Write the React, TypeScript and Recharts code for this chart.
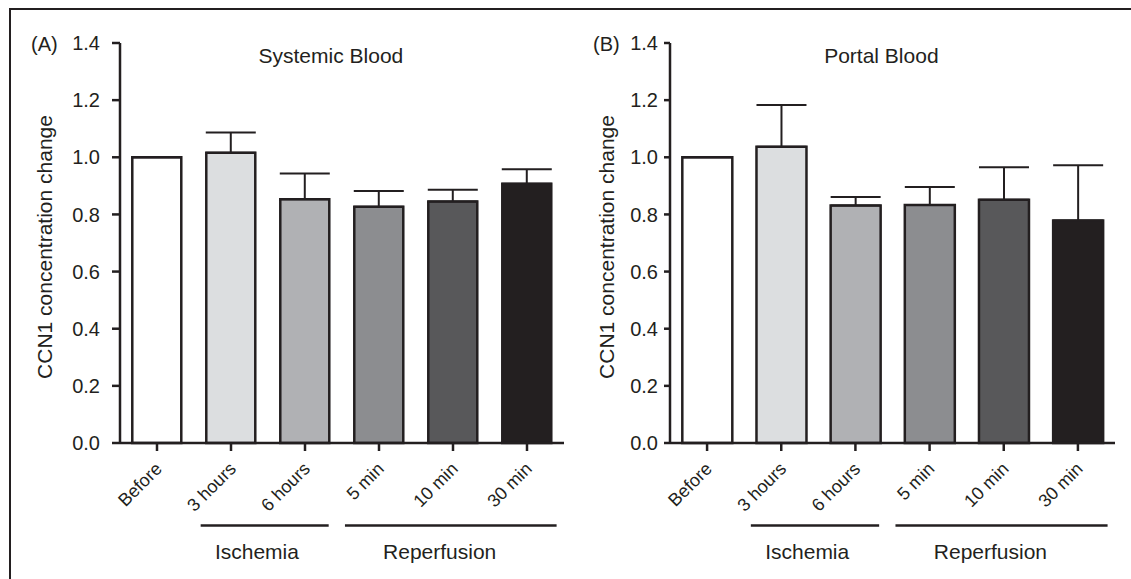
import React from 'react';
import { BarChart, Bar, XAxis, YAxis, ErrorBar, Cell } from 'recharts';

const categories = ['Before', '3 hours', '6 hours', '5 min', '10 min', '30 min'];
const yTicks = [0, 0.2, 0.4, 0.6, 0.8, 1.0, 1.2, 1.4];

const systemicMean = [1.0, 1.016, 0.853, 0.827, 0.845, 0.907];
const systemicErr = [0, 0.071, 0.09, 0.055, 0.041, 0.051];

const portalMean = [1.0, 1.037, 0.831, 0.833, 0.851, 0.779];
const portalErr = [0, 0.146, 0.03, 0.063, 0.114, 0.193];

const barColors = ['#ffffff', '#dcdee0', '#b0b1b4', '#8c8d90', '#58585a', '#231f20'];

// group brackets under the axis, in category units
const groups = [
  { label: 'Ischemia', from: 1.09, to: 2.82, at: 1.85 },
  { label: 'Reperfusion', from: 3.04, to: 5.9, at: 4.32 },
];

const INK = '#231f20';
const FONT = '"Liberation Sans", Arial, Helvetica, sans-serif';

const build = (mean: number[], err: number[]) =>
  categories.map((name, i) => ({ name, value: mean[i], err: [0, err[i]] }));

const AngledTick = (props: any) => {
  const { x, y, payload } = props;
  const ax = x + 6;
  const ay = y + 17;
  return (
    <text
      x={ax}
      y={ay}
      textAnchor="end"
      transform={`rotate(-45 ${ax} ${ay})`}
      fontSize={18}
      fill={INK}
      fontFamily={FONT}
    >
      {payload.value}
    </text>
  );
};

type PanelProps = {
  letter: string;
  title: string;
  mean: number[];
  err: number[];
  left: number;
  width: number;
  plotLeft: number; // absolute x of y axis
  plotRight: number;
  tickSize: number;
  tickMargin: number;
  letterX: number;
  yLabelX: number;
};

const PLOT_TOP = 43;
const PLOT_BOTTOM = 443;
const H = 579;

const Panel = (p: PanelProps) => {
  const data = build(p.mean, p.err);
  const yAxisW = 60;
  const relLeft = p.plotLeft - p.left;
  const relRight = p.plotRight - p.left;
  const band = (relRight - relLeft) / categories.length;
  const xAxisH = 60;
  return (
    <div style={{ position: 'absolute', left: p.left, top: 0, width: p.width, height: H }}>
      <BarChart
        width={p.width}
        height={H}
        data={data}
        margin={{ top: PLOT_TOP, left: relLeft - yAxisW, right: p.width - relRight, bottom: H - PLOT_BOTTOM - xAxisH }}
        barCategoryGap="16.6%"
      >
        <XAxis
          dataKey="name"
          height={xAxisH}
          interval={0}
          tickSize={8}
          axisLine={{ stroke: INK, strokeWidth: 2.5 }}
          tickLine={{ stroke: INK, strokeWidth: 2.5 }}
          tick={<AngledTick />}
        />
        <YAxis
          width={yAxisW}
          domain={[0, 1.4]}
          ticks={yTicks}
          interval={0}
          tickSize={p.tickSize}
          tickMargin={p.tickMargin}
          tickFormatter={(v: number) => v.toFixed(1)}
          axisLine={{ stroke: INK, strokeWidth: 2.5 }}
          tickLine={{ stroke: INK, strokeWidth: 2.5 }}
          tick={{ fontSize: 20, fill: INK, fontFamily: FONT }}
        />
        <Bar dataKey="value" stroke={INK} strokeWidth={2.5} isAnimationActive={false}>
          {data.map((d, i) => (
            <Cell key={d.name} fill={barColors[i]} />
          ))}
          <ErrorBar dataKey="err" width={25} stroke={INK} strokeWidth={2} direction="y" isAnimationActive={false} />
        </Bar>
      </BarChart>
      <svg
        width={p.width}
        height={H}
        style={{ position: 'absolute', left: 0, top: 0, pointerEvents: 'none' }}
        fontFamily={FONT}
        fill={INK}
      >
        <text x={p.letterX - p.left} y={44} dy="0.355em" fontSize={20}>
          {p.letter}
        </text>
        <text x={relLeft + (relRight - relLeft) * 0.475} y={56} dy="0.355em" fontSize={21} textAnchor="middle">
          {p.title}
        </text>
        <text
          x={p.yLabelX - p.left}
          y={247}
          dy="0.355em"
          fontSize={21}
          textAnchor="middle"
          transform={`rotate(-90 ${p.yLabelX - p.left} 247)`}
        >
          CCN1 concentration change
        </text>
        {groups.map((g) => (
          <g key={g.label}>
            <line
              x1={relLeft + g.from * band}
              x2={relLeft + g.to * band}
              y1={525.5}
              y2={525.5}
              stroke={INK}
              strokeWidth={2.5}
            />
            <text x={relLeft + g.at * band} y={552} dy="0.355em" fontSize={21} textAnchor="middle">
              {g.label}
            </text>
          </g>
        ))}
      </svg>
    </div>
  );
};

export default function App() {
  return (
    <div
      style={{
        position: 'absolute',
        left: 0,
        top: 0,
        width: 1131,
        height: 579,
        background: '#fff',
        overflow: 'hidden',
      }}
    >
      <div
        style={{
          position: 'absolute',
          left: 9,
          top: 8,
          width: 1200,
          height: 700,
          borderTop: `2.5px solid ${INK}`,
          borderLeft: `2.5px solid ${INK}`,
        }}
      />
      <Panel
        letter="(A)"
        title="Systemic Blood"
        mean={systemicMean}
        err={systemicErr}
        left={0}
        width={600}
        plotLeft={120}
        plotRight={564}
        tickSize={8}
        tickMargin={12}
        letterX={31}
        yLabelX={45}
      />
      <Panel
        letter="(B)"
        title="Portal Blood"
        mean={portalMean}
        err={portalErr}
        left={560}
        width={571}
        plotLeft={670}
        plotRight={1115}
        tickSize={6}
        tickMargin={6}
        letterX={593}
        yLabelX={607}
      />
    </div>
  );
}
